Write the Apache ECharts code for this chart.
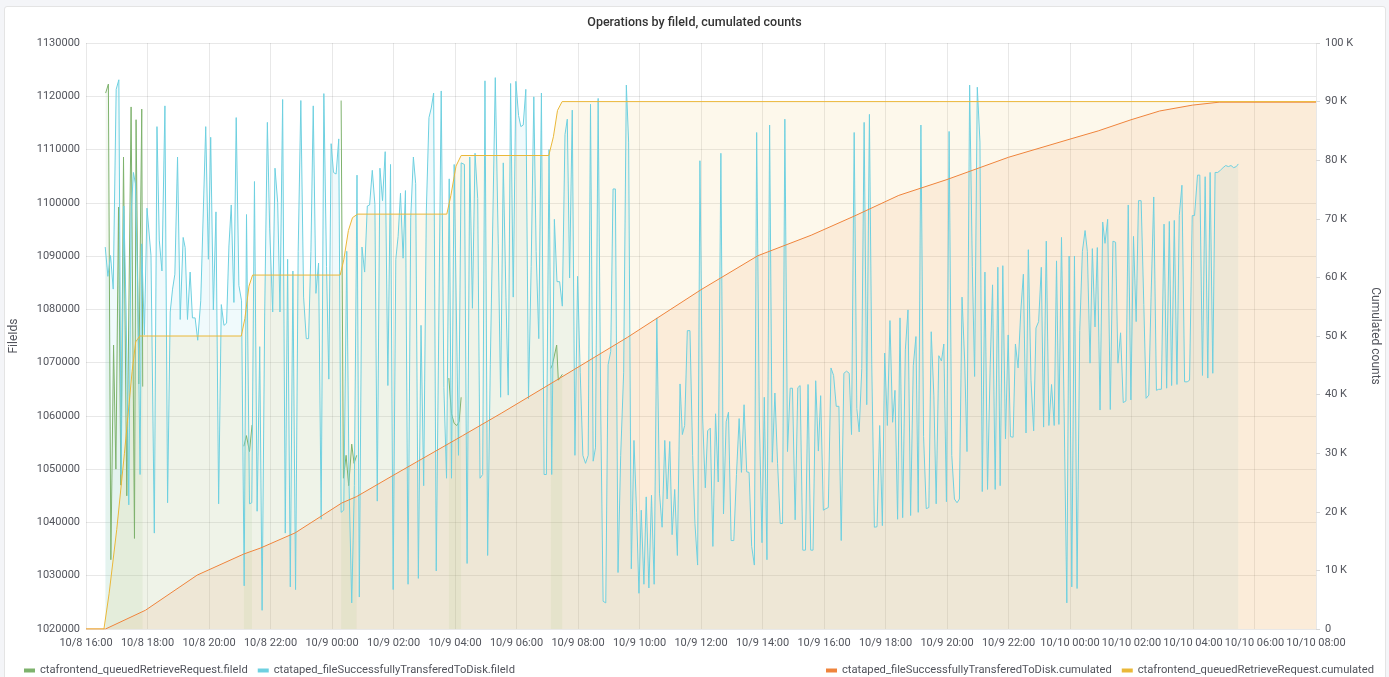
<!DOCTYPE html>
<html>
<head>
<meta charset="utf-8">
<title>Operations by fileId, cumulated counts</title>
<script src="https://cdn.jsdelivr.net/npm/echarts/dist/echarts.min.js"></script>
<style>
  html, body { margin: 0; padding: 0; background: #f4f5f8; }
  #panel { position: absolute; left: 4px; top: 6px; width: 1380px; height: 690px; background: #fff; border: 1px solid #e4e4e4; border-radius: 3px; }
  #main { position: absolute; left: 0; top: 0; width: 1389px; height: 677px; }
</style>
</head>
<body>
<div id="panel"></div>
<div id="main"></div>
<script>
// x values are minutes after 10/8 16:00, fileIds in thousands, cumulated counts in K
const xTickLabels = ['10/8 16:00', '10/8 18:00', '10/8 20:00', '10/8 22:00', '10/9 00:00', '10/9 02:00',
  '10/9 04:00', '10/9 06:00', '10/9 08:00', '10/9 10:00', '10/9 12:00', '10/9 14:00', '10/9 16:00',
  '10/9 18:00', '10/9 20:00', '10/9 22:00', '10/10 00:00', '10/10 02:00', '10/10 04:00', '10/10 06:00', '10/10 08:00']

const seriesNames = [
  'ctafrontend_queuedRetrieveRequest.fileId',
  'ctataped_fileSuccessfullyTransferedToDisk.fileId',
  'ctataped_fileSuccessfullyTransferedToDisk.cumulated',
  'ctafrontend_queuedRetrieveRequest.cumulated'
]

// frontend fileIds only come in bursts, null = gap
const frontendFileIds = [
  [38.3, 1120.6], [43.7, 1122.3], [48.5, 1033], [53.8, 1073.3], [58.3, 1050], [63.5, 1099.2], [68, 1047],
  [73.2, 1108.6], [79.6, 1045], [88, 1118], [94.6, 1037], [97.7, 1115.6], [103, 1066], [108.8, 1117.6], [110.7, 1065.5],
  [200, null],
  [308, 1054.3], [313, 1056.3], [319, 1053.3], [324, 1058.3],
  [400, null],
  [497.8, 1119.2], [502.3, 1048.3], [507.5, 1052.6], [512.6, 1046.9], [518.5, 1054.7], [523, 1051.1], [528.2, 1052.6],
  [600, null],
  [708, 1067.1], [713.2, 1060.4], [718.4, 1058.6], [723.6, 1058.2], [728, 1058.9], [732, 1063.5],
  [800, null],
  [906.8, 1068.9], [910, 1069.6], [918.4, 1073.3], [921.6, 1066.7], [929.4, 1067.8]
]

const tapeFileIds = [
  [37.5, 1091.7], [42.7, 1086.2], [47.9, 1090.1], [53.1, 1083.8], [58.9, 1121.3], [64.1, 1123.1], [68.6, 1049.0],
  [73.8, 1099.4], [78.3, 1079.5], [83.5, 1043.3], [88.0, 1097.9], [92.5, 1105.7], [96.4, 1103.6], [101, 1083.8],
  [105.5, 1049], [108.7, 1092.3], [113.9, 1075.2], [119, 1099], [126.8, 1090.1], [133.3, 1038], [138.5, 1114.3],
  [143, 1093], [148.2, 1087.2], [154, 1118.2], [159.2, 1043.7], [164.3, 1079.5], [168.9, 1083.8], [173.4, 1086.6],
  [178.6, 1108.6], [183.8, 1078.1], [189.6, 1093.5], [193.5, 1091.6], [198, 1078.1], [203.2, 1087], [207.7, 1078.4],
  [212.9, 1078.4], [218, 1074.2], [223.9, 1081.6], [233.6, 1114.3], [238.8, 1089.4], [243.3, 1112.3], [248.5, 1079.9],
  [253.6, 1098.3], [258.8, 1043.5], [264, 1080.9], [269.2, 1077], [274.3, 1077.4], [278.9, 1091.9], [283.4, 1099.6],
  [288.6, 1081.3], [293.1, 1116], [298.3, 1084.5], [303.5, 1081.6], [308.6, 1028.1], [313.2, 1097.8], [319, 1043.5],
  [323.5, 1043.7], [328.7, 1104], [333.9, 1042.1], [339, 1073], [343.6, 1023.5], [348.7, 1079.5], [353.9, 1115.1],
  [358.4, 1095.1], [364.3, 1079.5], [368.8, 1106.5], [374, 1100.1], [378.5, 1079.5], [383.7, 1119.4], [388.8, 1038],
  [393.4, 1089.4], [398.6, 1027.9], [403.7, 1087.2], [408.9, 1027.4], [414, 1090.9], [419.2, 1119.2],
  [424.6, 1082.3], [429.8, 1074.5], [434.3, 1074.5], [438.9, 1090.9], [443.4, 1118.2], [448.6, 1083], [453.8, 1088.7],
  [458.9, 1040.6], [464.1, 1120.5], [469.3, 1088], [473.8, 1066.9], [478.3, 1111.1], [482.9, 1105.7], [488, 1105.4],
  [493.2, 1112], [497.8, 1041.9], [502.9, 1042.3], [508.8, 1090.9], [513.3, 1046.9], [518.5, 1024.9], [523.6, 1046.9],
  [528.8, 1105.2], [533.3, 1026], [538.5, 1091.7], [543.7, 1087], [548.9, 1099.4], [553.4, 1099.6], [558.6, 1106.1],
  [563.7, 1099.7], [568.3, 1044], [573.5, 1106.5], [578.6, 1100.4], [583.8, 1109.6], [589, 1065.7], [594.2, 1107.2],
  [599.3, 1027.4], [604.5, 1089.4], [609, 1093.7], [613.6, 1101.8], [618.7, 1089.6], [623.3, 1102.3], [628.4, 1028.4],
  [633.6, 1097.2], [638.8, 1108.6], [643.3, 1103.6], [648.5, 1029.5], [653.7, 1077], [658.9, 1046.9], [664, 1098.3],
  [669.2, 1116], [673.7, 1117.8], [678.3, 1120.6], [683.4, 1030.9], [693.1, 1121], [698.3, 1065.3], [703.5, 1048.3],
  [708.7, 1104.5], [713.2, 1048.3], [718.4, 1107.2], [726.8, 1052.6], [732, 1107.5], [738.4, 1107.2], [743.6, 1032.3],
  [748.8, 1108.6], [754, 1080.2], [759.1, 1109.3], [764.3, 1100.8], [768.8, 1048.3], [774, 1049], [778.5, 1122.9],
  [783.7, 1033.8], [788.9, 1069.6], [798.6, 1123.5], [804.4, 1092.3], [809, 1063.5],
  [814.2, 1107.5], [819.4, 1082.3], [823.9, 1063.9], [828.5, 1122.4], [833.6, 1082.3], [838.8, 1122.8], [844, 1116.4],
  [848.5, 1114.3], [853.1, 1114.6], [858.2, 1121.3], [863.4, 1063.2], [868.6, 1088], [873.8, 1119.9], [878.3, 1090.9],
  [883.5, 1074.5], [888.6, 1120.6], [893.8, 1049], [898.3, 1049], [903.5, 1110], [908.7, 1049], [913.9, 1096.9],
  [919, 1085.2], [924.2, 1085.2], [929.4, 1080.6], [934.6, 1112.8], [939.1, 1115.7], [943.6, 1085.9], [948.8, 1117.4],
  [954, 1052.6], [959.2, 1086.2], [964.3, 1068.2], [969.5, 1052.6], [974.7, 1051.1], [979.9, 1052.6], [984.4, 1118.5],
  [989.6, 1051.5], [994.1, 1054], [999.3, 1119.6], [1004.5, 1059.6], [1009, 1025.2], [1014.2, 1024.9], [1018.7, 1069.6],
  [1023.9, 1072.1], [1028.4, 1102.6], [1032.9, 1102.6], [1038.1, 1030.6], [1043.3, 1052.6], [1049.1, 1068.2],
  [1054.3, 1122.1], [1058.8, 1111.4], [1064, 1031.3], [1069.2, 1055.4], [1074.3, 1041.9], [1078.9, 1026.7],
  [1083.4, 1042.3], [1088.6, 1028.4], [1093.1, 1044.8], [1098.3, 1027.7], [1103.4, 1045.1], [1108.6, 1028.4],
  [1113.8, 1078.4], [1119, 1045.5], [1124.1, 1039.1], [1129.3, 1055.4], [1133.9, 1044.4], [1139, 1055.2],
  [1143.6, 1037.7], [1148.7, 1046.2], [1153.9, 1033.8], [1159.1, 1066], [1163.6, 1056.5], [1168.1, 1058.2],
  [1173.3, 1076], [1178.5, 1076], [1183.7, 1052.6], [1188.2, 1039.8], [1193.4, 1032], [1197.9, 1107.9],
  [1203.2, 1059.6], [1208.4, 1046.5], [1212.9, 1057.2], [1218.1, 1057.7], [1223.2, 1035.5], [1228.4, 1060.4],
  [1233.6, 1047.6], [1238.8, 1109.3], [1243.9, 1041.6], [1249.1, 1058.9], [1253.6, 1060.7], [1258.8, 1036.6],
  [1264, 1036.6], [1269.2, 1049], [1274.4, 1059.5], [1278.9, 1049.4], [1284, 1062.1], [1289.2, 1049.5],
  [1293.8, 1049.4], [1298.9, 1035.5], [1304.1, 1032], [1308.6, 1113.2], [1313.8, 1059.6], [1319, 1036.2],
  [1323.5, 1063.5], [1328.7, 1033], [1333.9, 1114.6], [1339, 1051.3], [1344.2, 1064.3], [1349.4, 1051.1],
  [1354.6, 1039.8], [1359.1, 1039.8], [1363.6, 1115.7], [1368.8, 1053.3], [1374, 1065.2], [1378.5, 1065.2],
  [1383.7, 1040.5], [1388.9, 1065.3], [1393.4, 1065.7], [1398.6, 1034.8], [1403.8, 1034.8], [1408.9, 1065.9],
  [1414.1, 1034.8], [1418.6, 1034.8], [1423.8, 1066.6], [1429, 1053.4], [1433.5, 1063.8], [1438.7, 1042.3],
  [1443.9, 1042.6], [1448.4, 1042.8], [1453.6, 1069], [1458.7, 1067.6], [1463.9, 1061.8], [1469.1, 1061.8],
  [1473.6, 1036.6], [1478.8, 1068], [1484, 1068.4], [1489.2, 1068], [1493.7, 1056.5], [1498.9, 1113.2],
  [1504, 1061.4], [1508.6, 1057], [1513.7, 1068.9], [1518.3, 1115.1], [1523.4, 1062.1], [1528.6, 1116.6],
  [1533.2, 1069.6], [1538.3, 1039.1], [1543.5, 1039.2], [1548.7, 1058.2], [1553.9, 1039.4], [1558.4, 1071.8],
  [1563.6, 1058.2], [1568.7, 1077.9], [1573.9, 1058.8], [1578.5, 1064.8], [1583.6, 1040.6],
  [1588.3, 1078.4], [1593.5, 1040.9], [1598.7, 1072.4], [1603.9, 1079.9], [1609, 1041.3], [1614.2, 1069.4],
  [1619.4, 1074.9], [1623.9, 1041.9], [1629.1, 1114.6], [1634.3, 1056.1], [1639.5, 1042.6], [1644.6, 1042.8],
  [1649.2, 1075.8], [1654.3, 1063.9], [1658.9, 1043.5], [1664, 1071.3], [1669.2, 1070.3], [1673.8, 1073.5],
  [1678.9, 1043.9], [1684.1, 1113.4], [1689.3, 1052.6], [1694.5, 1044.4], [1699.6, 1043.7], [1704.2, 1044.4],
  [1709.3, 1082.3], [1714.5, 1070.3], [1719, 1053.3], [1724.2, 1122.1], [1729.4, 1088], [1733.9, 1067.4],
  [1739.1, 1121.7], [1744.3, 1111.4], [1748.8, 1045.8], [1754, 1087], [1759.1, 1046.2], [1764.3, 1069.6],
  [1768.9, 1084.6], [1774, 1046.2], [1779.2, 1087.9], [1783.7, 1046.9], [1788.9, 1088.2], [1794.1, 1055.7],
  [1799.3, 1075.2], [1803.8, 1056.1], [1809, 1056], [1813.5, 1073.5], [1818.7, 1069], [1823.9, 1079.5],
  [1829, 1086.6], [1834.2, 1056.8], [1838.7, 1091.2], [1843.9, 1066.7], [1849.1, 1057.2], [1853.6, 1076.5],
  [1858.8, 1077.7], [1864, 1087.9], [1868.5, 1057.9], [1873.7, 1092.8], [1878.8, 1058.2], [1884, 1065.9],
  [1889.2, 1058.2], [1893.7, 1089.1], [1898.3, 1058.4], [1903.4, 1093.5], [1908.6, 1060.4], [1913.8, 1024.9],
  [1918.3, 1090], [1923.5, 1027.9], [1928.7, 1090], [1933.8, 1027.6], [1939, 1076], [1944.2, 1090.9],
  [1949.4, 1094.8], [1953.9, 1090.9], [1959.1, 1069.9], [1963.6, 1091.4], [1968.8, 1076.7], [1973.3, 1091.6],
  [1978.6, 1061.1], [1983.8, 1096.4], [1988.3, 1092.4], [1993.5, 1096.9], [1998.6, 1061.2], [2003.8, 1092.8],
  [2009, 1092.6], [2013.5, 1069.9], [2018.7, 1075.6], [2023.9, 1062.5], [2029.1, 1062.8], [2033.6, 1099.6],
  [2038.8, 1063], [2043.9, 1093.7], [2049.1, 1077.7], [2053.6, 1100.4], [2058.8, 1100.4], [2064, 1080.9],
  [2068.5, 1063.3], [2073.7, 1063.9], [2078.2, 1082.3], [2083.4, 1101.1], [2088.6, 1064.8], [2093.1, 1065],
  [2098.3, 1065], [2103.5, 1096], [2108.6, 1065.2], [2113.8, 1096.5], [2118.3, 1065.7], [2123.5, 1096.7],
  [2128.7, 1065.9], [2133.2, 1097.6], [2138.4, 1103.3], [2143.6, 1066.4], [2148.7, 1066.4], [2153.3, 1066.7],
  [2158.5, 1097.6], [2163, 1097.6], [2168.8, 1105.2], [2173.3, 1105.2], [2178.5, 1067.6], [2183.7, 1104.9],
  [2188.9, 1067.1], [2193.4, 1105.7], [2198.6, 1068], [2203.1, 1105.7], [2208.3, 1105.7], [2213.4, 1106.1],
  [2218.6, 1106.6], [2223.8, 1107], [2229, 1106.8], [2234.1, 1107], [2239.3, 1106.6], [2244.5, 1106.8], [2248.4, 1107.3]
]

const tapeCumulated = [
  [0, 0], [38, 0], [116, 3.2], [217, 9.2], [308, 12.8], [340, 13.8], [408, 16.4], [499, 21.5], [528, 22.6],
  [599, 26.2], [709, 31.7], [735, 33.0], [810, 36.8], [915, 42.3], [1057, 49.8], [1200, 57.9], [1311, 63.7],
  [1415, 67.2], [1500, 70.5], [1586, 74.0], [1680, 76.7], [1800, 80.5], [1920, 83.6], [1975, 85.0], [2039, 86.9],
  [2095, 88.4], [2159, 89.4], [2211, 89.9], [2400, 89.9]
]

const frontendCumulated = [
  [0, 0], [35, 0], [45, 6], [60, 17], [75, 30], [90, 44], [97, 49], [105, 50], [303, 50], [310, 53], [318, 58.5],
  [325, 60.4], [496, 60.4], [503, 63], [512, 68], [520, 70.2], [530, 70.8], [704, 70.8], [712, 74], [722, 79],
  [732, 80.8], [903, 80.8], [912, 84], [920, 88.5], [929, 90], [2400, 90]
]

const colors = ['#7eb26d', '#6ed0e0', '#ef843c', '#eab839']
const textColor = '#52545c'
const gridColor = 'rgba(0,0,0,0.09)'

let myChart = echarts.init(document.getElementById('main'))

function lineSeries(name, data, color, axis) {
  return {
    name: name,
    type: 'line',
    yAxisIndex: axis,
    data: data,
    showSymbol: false,
    connectNulls: false,
    color: color,
    lineStyle: { color: color, width: 1 },
    areaStyle: { color: color, opacity: 0.1, origin: 'start' },
    emphasis: { disabled: true }
  }
}

myChart.setOption({
  animation: false,
  color: colors,
  textStyle: { fontFamily: 'Roboto, Helvetica, Arial, sans-serif' },
  title: {
    text: 'Operations by fileId, cumulated counts',
    left: 'center',
    top: 11,
    textStyle: { fontSize: 12.5, fontWeight: 500, color: '#333' }
  },
  legend: [
    {
      data: seriesNames.slice(0, 2),
      left: 19,
      top: 660,
      icon: 'rect',
      itemWidth: 11,
      itemHeight: 4,
      itemGap: 10,
      textStyle: { fontSize: 11.2, color: textColor }
    },
    {
      data: seriesNames.slice(2),
      right: 10,
      top: 660,
      icon: 'rect',
      itemWidth: 11,
      itemHeight: 4,
      itemGap: 10,
      textStyle: { fontSize: 11.2, color: textColor }
    }
  ],
  grid: { left: 83, right: 69, top: 43, bottom: 48 },
  xAxis: {
    type: 'value',
    min: 0,
    max: 2400,
    interval: 120,
    axisLine: { show: false },
    axisTick: { show: false },
    axisLabel: {
      color: textColor,
      fontSize: 11,
      margin: 9,
      formatter: function (v) { return xTickLabels[Math.round(v / 120)] }
    },
    splitLine: { lineStyle: { color: gridColor } }
  },
  yAxis: [
    {
      type: 'value',
      min: 1020,
      max: 1130,
      interval: 10,
      name: 'FileIds',
      nameLocation: 'middle',
      nameGap: 66,
      nameTextStyle: { color: textColor, fontSize: 12 },
      axisLine: { show: false },
      axisTick: { show: false },
      axisLabel: {
        color: textColor,
        fontSize: 11,
        margin: 6,
        formatter: function (v) { return String(Math.round(v * 1000)) }
      },
      splitLine: { lineStyle: { color: gridColor } }
    },
    {
      type: 'value',
      min: 0,
      max: 100,
      interval: 10,
      name: 'Cumulated counts',
      nameLocation: 'middle',
      nameGap: 53,
      nameRotate: -90,
      nameTextStyle: { color: textColor, fontSize: 12 },
      axisLine: { show: false },
      axisTick: { show: true, length: 4, lineStyle: { color: '#d8d8d8' } },
      axisLabel: {
        color: textColor,
        fontSize: 11,
        margin: 9,
        formatter: function (v) { return v === 0 ? '0' : v + ' K' }
      },
      splitLine: { show: false }
    }
  ],
  series: [
    lineSeries(seriesNames[0], frontendFileIds, colors[0], 0),
    lineSeries(seriesNames[1], tapeFileIds, colors[1], 0),
    lineSeries(seriesNames[2], tapeCumulated, colors[2], 1),
    lineSeries(seriesNames[3], frontendCumulated, colors[3], 1)
  ]
})
</script>
</body>
</html>
